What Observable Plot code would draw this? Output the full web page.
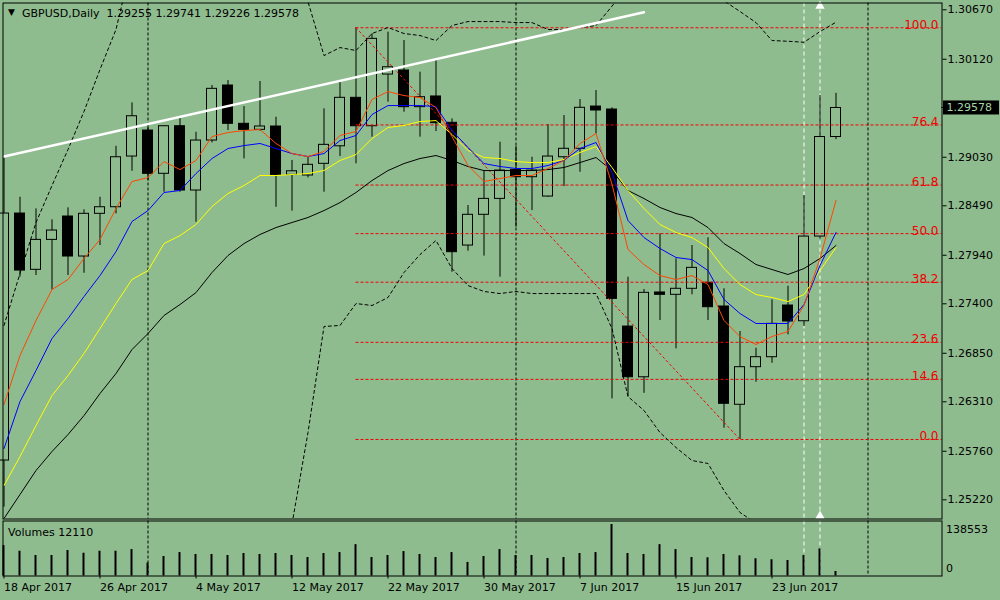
<!DOCTYPE html>
<html><head><meta charset="utf-8">
<script src="https://cdn.jsdelivr.net/npm/d3@7"></script>
<script src="https://cdn.jsdelivr.net/npm/@observablehq/plot@0.6"></script>
<style>
html,body{margin:0;padding:0;background:#8fbc8f;width:1000px;height:600px;overflow:hidden}
#chart{position:relative;width:1000px;height:600px}
#chart svg{display:block}
#chart svg text{white-space:pre}
</style></head><body><div id="chart"></div>
<script>
const BG = "#8fbc8f";
const symbol = "GBPUSD", timeframe = "Daily";
const dateLabels = ["18 Apr 2017","26 Apr 2017","4 May 2017","12 May 2017","22 May 2017","30 May 2017","7 Jun 2017","15 Jun 2017","23 Jun 2017"];
const dateLabelIdx = [0,6,12,18,24,30,36,42,48];
const monthStartIdx = [9,32,54];
const markerIdx = [50,51];
const arrowIdx = [51];

const open  = [1.25657,1.28404,1.27778,1.28111,1.28371,1.27926,1.28401,1.28474,1.29038,1.29327,1.28846,1.29375,1.28660,1.29216,1.29828,1.29402,1.29335,1.29372,1.28834,1.28827,1.28957,1.29152,1.29691,1.29375,1.29950,1.29995,1.29587,1.29706,1.29413,1.28048,1.28390,1.28567,1.28890,1.28808,1.28593,1.29030,1.29124,1.29594,1.29561,1.27147,1.26583,1.27526,1.27500,1.27567,1.27634,1.27370,1.26277,1.26695,1.26806,1.27381,1.27206,1.28148,1.29255];
const high  = [1.29030,1.28585,1.28456,1.28334,1.28467,1.28445,1.28585,1.29152,1.29635,1.29390,1.29380,1.29468,1.29308,1.29828,1.29883,1.29594,1.29872,1.29475,1.28994,1.29030,1.29569,1.29883,1.30470,1.30403,1.30421,1.30328,1.29976,1.30114,1.29457,1.28493,1.28882,1.29197,1.29152,1.29030,1.29394,1.29494,1.29672,1.29772,1.29580,1.27696,1.27559,1.28178,1.27900,1.28048,1.28134,1.27567,1.27092,1.26906,1.27444,1.27596,1.28604,1.29717,1.29741];
const low   = [1.25138,1.27696,1.27715,1.27555,1.27715,1.27740,1.28048,1.28400,1.28874,1.28770,1.28641,1.28641,1.28307,1.29190,1.29327,1.29012,1.29320,1.28474,1.28430,1.28800,1.28641,1.29038,1.28957,1.29253,1.29642,1.29531,1.29253,1.29316,1.27751,1.27985,1.27930,1.27696,1.28252,1.28437,1.28585,1.28704,1.28863,1.29290,1.26343,1.26369,1.26405,1.27214,1.26899,1.27500,1.27214,1.26016,1.25891,1.26528,1.26739,1.27055,1.27147,1.28120,1.29226];
const close = [1.28404,1.27770,1.28111,1.28215,1.27926,1.28401,1.28474,1.29030,1.29486,1.28846,1.29375,1.28660,1.29216,1.29791,1.29402,1.29335,1.29372,1.28834,1.28874,1.28946,1.29168,1.29691,1.29375,1.30347,1.30031,1.29587,1.29698,1.29409,1.27974,1.28390,1.28567,1.28882,1.28808,1.28882,1.29038,1.29124,1.29580,1.29550,1.27455,1.26583,1.27522,1.27500,1.27567,1.27800,1.27362,1.26288,1.26695,1.26806,1.27177,1.27203,1.28148,1.29255,1.29578];
const volume = [81800,66600,55100,55100,68500,61300,66600,66600,71100,34600,52500,63100,57800,57800,55100,60500,57800,60500,55100,49800,60500,63100,84400,49800,55100,65800,57800,49800,63100,36500,52500,71100,55100,55100,47200,49800,60500,63100,138553,60500,57800,84400,71100,49800,49000,57800,54300,46400,43700,41800,55100,73000,12110];

const maRed = [1.26280,1.26825,1.27214,1.27559,1.27670,1.27904,1.28115,1.28460,1.28760,1.28804,1.28982,1.28893,1.28994,1.29260,1.29305,1.29327,1.29338,1.29183,1.29071,1.29038,1.29094,1.29272,1.29316,1.29672,1.29761,1.29716,1.29694,1.29583,1.29260,1.28938,1.28760,1.28793,1.28827,1.28827,1.28905,1.28994,1.29183,1.29294,1.28730,1.28004,1.27837,1.27714,1.27670,1.27714,1.27614,1.27214,1.27036,1.26947,1.27036,1.27092,1.27381,1.27904,1.28549];
const maBlue = [1.25790,1.26313,1.26658,1.27014,1.27236,1.27481,1.27714,1.27981,1.28315,1.28437,1.28638,1.28660,1.28849,1.29016,1.29127,1.29160,1.29183,1.29127,1.29071,1.29038,1.29071,1.29216,1.29272,1.29505,1.29605,1.29605,1.29605,1.29594,1.29327,1.29138,1.28960,1.28927,1.28905,1.28905,1.28938,1.28994,1.29127,1.29194,1.28860,1.28326,1.28137,1.28015,1.27915,1.27892,1.27770,1.27448,1.27292,1.27181,1.27181,1.27181,1.27392,1.27826,1.28193];
const maYellow = [1.25379,1.25701,1.26046,1.26380,1.26602,1.26847,1.27125,1.27403,1.27670,1.27770,1.28070,1.28159,1.28282,1.28482,1.28627,1.28715,1.28827,1.28827,1.28838,1.28849,1.28882,1.28994,1.29060,1.29238,1.29361,1.29383,1.29427,1.29438,1.29283,1.29105,1.29027,1.29016,1.28982,1.28971,1.28971,1.29005,1.29083,1.29149,1.28916,1.28660,1.28460,1.28282,1.28193,1.28137,1.28026,1.27792,1.27614,1.27503,1.27470,1.27425,1.27503,1.27770,1.28026];
const maBlack = [1.25012,1.25279,1.25546,1.25757,1.25946,1.26157,1.26402,1.26625,1.26891,1.27069,1.27270,1.27392,1.27525,1.27748,1.27937,1.28070,1.28171,1.28248,1.28304,1.28360,1.28437,1.28526,1.28638,1.28771,1.28882,1.28960,1.29016,1.29049,1.28994,1.28927,1.28882,1.28882,1.28882,1.28882,1.28893,1.28916,1.28971,1.29027,1.28882,1.28660,1.28571,1.28471,1.28404,1.28360,1.28248,1.28070,1.27959,1.27837,1.27781,1.27726,1.27792,1.27904,1.28048];
const bandUpper = [1.27159,1.27737,1.28304,1.28715,1.29116,1.29539,1.30006,1.30451,1.3120,1.3150,1.3175,1.3195,1.3210,1.3225,1.3230,1.3225,1.3215,1.3200,1.3170,1.3076,1.30161,1.30250,1.30217,1.30406,1.30473,1.30406,1.30384,1.30328,1.30495,1.30539,1.30539,1.30539,1.30528,1.30528,1.30451,1.30451,1.30473,1.30495,1.3071,1.3095,1.3105,1.3110,1.3110,1.3105,1.3090,1.3077,1.30651,1.30528,1.30328,1.30320,1.30309,1.30428,1.30532];
const bandLower = [1.2330,1.2335,1.2340,1.2350,1.2365,1.2380,1.2395,1.2405,1.2415,1.2425,1.2430,1.2435,1.2440,1.2445,1.2450,1.2455,1.2465,1.2478,1.2495,1.25968,1.27148,1.27159,1.27403,1.27381,1.27470,1.27748,1.27948,1.28104,1.27792,1.27603,1.27537,1.27514,1.27537,1.27514,1.27514,1.27514,1.27514,1.27514,1.27125,1.26369,1.26213,1.25968,1.25802,1.25657,1.25624,1.25323,1.25079,1.2496,1.2490,1.2487,1.2480,1.2460,1.2440];

const priceTicks = [1.30670,1.30120,1.29030,1.28490,1.27940,1.27400,1.26850,1.26310,1.25760,1.25220];
const fiboRatios = [100,76.4,61.8,50,38.2,23.6,14.6,0];
const fiboHigh = 1.30470, fiboLow = 1.25891;
const fiboStartIdx = 22, fiboEndIdx = 46;
const trendStart = [0, 1.29038], trendEnd = [40, 1.30643];
const volumeScaleMax = 138553;

const xDomain = [-0.0625, 58.625];
const yDomain = [1.250066, 1.307456];
const last = open.length - 1;
const f5 = d3.format(".5f");
const bars = open.map((o, i) => ({i, open: o, high: high[i], low: low[i], close: close[i], volume: volume[i]}));
const bull = bars.filter(d => d.close >= d.open);
const bear = bars.filter(d => d.close < d.open);
const fiboPrice = r => fiboLow + r / 100 * (fiboHigh - fiboLow);
const series = (arr, opts) => Plot.line(arr, {x: (d, i) => i, y: d => d, clip: true, strokeWidth: 1, strokeLinejoin: "miter", ...opts});
const font = {background: BG, color: "black", fontFamily: "DejaVu Sans", fontSize: "11px", overflow: "visible"};

const main = Plot.plot({
  width: 1000, height: 520,
  marginLeft: 2.5, marginRight: 58.5, marginTop: 2.5, marginBottom: 1.5,
  style: font,
  x: {type: "linear", domain: xDomain, axis: null},
  y: {type: "linear", domain: yDomain},
  marks: [
    Plot.ruleX(monthStartIdx, {stroke: "black", strokeDasharray: "3,2"}),
    Plot.ruleX(markerIdx, {stroke: "white", strokeDasharray: "4,3"}),
    Plot.ruleX(bars, {x: "i", y1: "low", y2: "high", stroke: "black", clip: true}),
    Plot.rect(bull, {x1: d => d.i - 5/16, x2: d => d.i + 5/16, y1: "open", y2: "close", fill: BG, stroke: "black", inset: 0}),
    Plot.rect(bear, {x1: d => d.i - 5/16, x2: d => d.i + 5/16, y1: "open", y2: "close", fill: "black", stroke: "black", inset: 0}),
    Plot.ruleY(fiboRatios, {y: fiboPrice, x1: fiboStartIdx, x2: xDomain[1], stroke: "#f00000", strokeDasharray: "3,2"}),
    Plot.line([[fiboStartIdx, fiboHigh], [fiboEndIdx, fiboLow]], {stroke: "#f00000", strokeWidth: 1, strokeDasharray: "2,3"}),
    series(bandUpper, {stroke: "black", strokeDasharray: "3,3"}),
    series(bandLower, {stroke: "black", strokeDasharray: "3,3"}),
    series(maBlack, {stroke: "black"}),
    series(maYellow, {stroke: "#ffff00"}),
    series(maBlue, {stroke: "#0000ff"}),
    series(maRed, {stroke: "#ff4500"}),
    Plot.line([trendStart, trendEnd], {stroke: "white", strokeWidth: 2.5, clip: true}),
    Plot.dot(arrowIdx, {x: d => d, frameAnchor: "top", dy: 3, symbol: "triangle", r: 2.5, fill: "white", stroke: "white"}),
    Plot.dot(arrowIdx, {x: d => d, frameAnchor: "bottom", dy: -3, symbol: "triangle", r: 2.5, fill: "white", stroke: "white"}),
    Plot.text(fiboRatios, {y: fiboPrice, text: r => r.toFixed(1), frameAnchor: "right", textAnchor: "end", lineAnchor: "bottom", dx: -3.5, dy: 1, fill: "#f00000", fontSize: 12}),
    Plot.frame({stroke: "black"}),
    Plot.axisY({ticks: priceTicks, anchor: "right", tickFormat: f5, tickSize: 4, tickPadding: 1.5, label: null}),
    Plot.text(["▼"], {frameAnchor: "top-left", dx: 8.5, dy: 9.5, fontSize: 9, textAnchor: "middle", lineAnchor: "middle"}),
    Plot.text([`${symbol},${timeframe}  ${f5(open[last])} ${f5(high[last])} ${f5(low[last])} ${f5(close[last])}`],
      {frameAnchor: "top-left", dx: 19, dy: 10.5, textAnchor: "start", lineAnchor: "middle"})
  ]
});

// current price label on the price axis, placed with the plot's own y scale
{
  const yp = main.scale("y").apply(close[last]);
  const g = d3.select(main).append("g");
  g.append("line").attr("x1", 941.5).attr("x2", 944).attr("y1", yp).attr("y2", yp).attr("stroke", "black");
  g.append("rect").attr("x", 943).attr("y", yp - 7).attr("width", 56).attr("height", 14).attr("fill", "black");
  g.append("text").attr("x", 946.5).attr("y", yp).attr("dy", "0.35em").attr("fill", "#a6d6a6")
    .attr("text-anchor", "start")
    .style("font-family", "DejaVu Sans").style("font-size", "11px").text(f5(close[last]));
}

const vol = Plot.plot({
  width: 1000, height: 80,
  marginLeft: 2.5, marginRight: 58.5, marginTop: 0.5, marginBottom: 24.5,
  style: font,
  x: {type: "linear", domain: xDomain},
  y: {type: "linear", domain: [0, 148000]},
  marks: [
    Plot.ruleX(monthStartIdx, {stroke: "black", strokeDasharray: "3,2"}),
    Plot.ruleX(markerIdx, {stroke: "white", strokeDasharray: "4,3"}),
    Plot.ruleX(bars, {x: "i", y1: 0, y2: "volume", stroke: "black", strokeWidth: 2, dx: -0.5}),
    Plot.frame({stroke: "black"}),
    Plot.axisX({ticks: dateLabelIdx, tickFormat: i => dateLabels[dateLabelIdx.indexOf(i)], tickSize: 3, tickPadding: 4, textAnchor: "start", label: null}),
    Plot.axisY({ticks: [volumeScaleMax], anchor: "right", tickFormat: d3.format("d"), tickSize: 0, tickPadding: 4, dy: 5, label: null}),
    Plot.axisY({ticks: [0], anchor: "right", tickFormat: d3.format("d"), tickSize: 0, tickPadding: 4, dy: -7.5, label: null}),
    Plot.text([`Volumes ${volume[last]}`], {frameAnchor: "top-left", dx: 5, dy: 11, textAnchor: "start", lineAnchor: "middle"})
  ]
});

const host = document.getElementById("chart");
host.appendChild(main);
host.appendChild(vol);
</script>
</body></html>
